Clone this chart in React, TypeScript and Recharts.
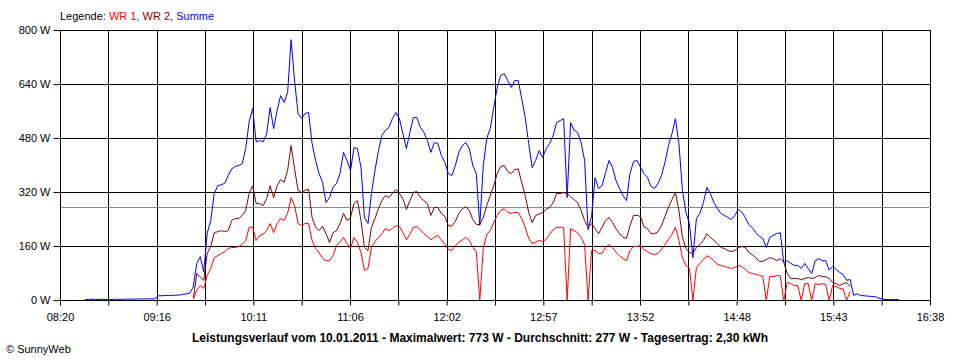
import { LineChart, Line, XAxis, YAxis, CartesianGrid, ReferenceLine } from 'recharts';

// samples every 2 minutes, first one at 08:34 (514 min after midnight)
const START_MIN = 514;
const STEP_MIN = 2;
// WR 1 / WR 2 only start feeding at sample 31 (09:36)
const WR_OFFSET = 31;

const timeLabels = ['08:20', '09:16', '10:11', '11:06', '12:02', '12:57', '13:52', '14:48', '15:43', '16:38'];
const yTicks = [0, 160, 320, 480, 640, 800];
const average = 277;

const summe = [
  3, 3, 4, 3, 3, 4, 3, 3, 3, 4, 3, 4, 4, 4, 4, 5, 4, 5, 5, 5, 5,
  14, 14, 15, 15, 15, 16, 16, 18, 20, 22,
  40, 110, 130, 85, 200, 237, 317, 340, 343, 347,
  370, 390, 397, 400, 405, 450, 530, 569, 470, 474,
  470, 494, 572, 509, 563, 607, 587, 616, 773, 650,
  554, 539, 554, 557, 465, 415, 376, 350, 290, 305,
  335, 347, 376, 439, 415, 385, 453, 450, 394, 246,
  228, 317, 385, 444, 489, 504, 513, 539, 557, 539,
  494, 450, 498, 542, 542, 513, 498, 474, 439, 468,
  465, 430, 409, 376, 370, 400, 439, 459, 468, 450,
  400, 376, 222, 400, 480, 510, 572, 631, 667, 672,
  652, 631, 652, 652, 598, 542, 465, 394, 415, 444,
  424, 450, 465, 489, 527, 533, 539, 305, 527, 504,
  498, 468, 415, 210, 250, 364, 332, 340, 379, 415,
  394, 355, 332, 311, 296, 376, 412, 415, 395, 376,
  365, 338, 332, 347, 370, 409, 459, 494, 539, 465,
  326, 261, 228, 127, 243, 258, 290, 335, 317, 290,
  272, 258, 252, 246, 240, 252, 270, 262, 246, 225,
  216, 201, 190, 184, 157, 187, 193, 198, 201, 113,
  118, 110, 104, 104, 95, 110, 95, 80, 118, 124,
  118, 118, 90, 101, 92, 83, 77, 60, 62, 15,
  20, 15, 14, 13, 12, 12, 8, 5, 3, 3, 3, 3, 3,
];

const wr2 = [
  5, 80, 70, 60, 140, 160, 201, 204, 207, 204,
  207, 237, 243, 243, 252, 267, 317, 340, 287, 287,
  281, 302, 340, 305, 340, 358, 350, 385, 459, 390,
  326, 320, 326, 330, 246, 217, 207, 220, 198, 172,
  201, 207, 228, 258, 237, 246, 287, 296, 237, 157,
  148, 217, 243, 272, 296, 311, 305, 317, 329, 317,
  302, 270, 296, 320, 323, 305, 296, 287, 252, 276,
  276, 258, 249, 222, 220, 234, 258, 272, 278, 267,
  240, 225, 225, 246, 281, 311, 340, 376, 397, 400,
  382, 376, 388, 390, 350, 311, 261, 231, 252, 256,
  261, 270, 276, 290, 317, 317, 320, 317, 308, 299,
  290, 267, 237, 217, 228, 213, 198, 217, 237, 246,
  231, 213, 198, 187, 184, 222, 252, 252, 249, 219,
  213, 198, 198, 204, 222, 249, 276, 299, 320, 267,
  187, 154, 142, 139, 157, 166, 178, 198, 187, 178,
  169, 157, 154, 148, 145, 148, 157, 160, 157, 142,
  136, 127, 116, 116, 121, 127, 124, 118, 124, 113,
  80, 65, 65, 65, 62, 65, 68, 65, 68, 74,
  71, 71, 65, 53, 50, 44, 50, 53, 41,
];

const wr1 = [
  5, 30, 44, 36, 74, 95, 127, 133, 139, 145,
  154, 157, 157, 160, 166, 178, 217, 217, 178, 193,
  196, 207, 228, 201, 228, 243, 237, 258, 305, 281,
  228, 222, 228, 228, 178, 154, 142, 125, 118, 118,
  133, 163, 172, 187, 169, 154, 187, 172, 142, 89,
  95, 157, 175, 187, 198, 213, 207, 213, 222, 219,
  201, 180, 196, 217, 219, 210, 198, 190, 180, 187,
  193, 180, 166, 151, 148, 163, 172, 180, 187, 178,
  157, 145, 0, 154, 196, 207, 231, 252, 267, 272,
  261, 258, 261, 261, 243, 217, 184, 169, 172, 178,
  175, 181, 196, 210, 217, 217, 217, 0, 213, 207,
  201, 187, 166, 0, 148, 148, 139, 140, 157, 166,
  157, 142, 133, 124, 118, 148, 160, 160, 163, 151,
  145, 139, 136, 139, 151, 166, 181, 196, 217, 178,
  127, 104, 95, 0, 98, 110, 121, 133, 127, 118,
  107, 104, 101, 98, 95, 98, 104, 100, 92, 83,
  80, 78, 75, 71, 0, 71, 71, 74, 73, 0,
  53, 50, 44, 44, 0, 50, 50, 0, 50, 47,
  50, 47, 0, 44, 41, 36, 34, 0, 27,
];

const X_MIN = 500;
const X_MAX = 998;
const xStep = (X_MAX - X_MIN) / 18;
const xTicks = Array.from({ length: 19 }, (_, k) => X_MIN + k * xStep);

const rows = summe.map((s, i) => ({
  t: START_MIN + i * STEP_MIN,
  summe: s,
  wr1: wr1[i - WR_OFFSET] ?? null,
  wr2: wr2[i - WR_OFFSET] ?? null,
}));

const font = '"Liberation Sans", Arial, sans-serif';
const tickStyle = { fill: '#000', fontSize: 11, fontFamily: font };

function formatTime(v: number) {
  const k = Math.round((v - X_MIN) / xStep);
  return k % 2 === 0 ? timeLabels[k / 2] : '';
}

export default function App() {
  return (
    <div style={{ position: 'absolute', left: 0, top: 0, width: 960, height: 360, background: '#fff', fontFamily: font }}>
      <div style={{ position: 'absolute', left: 60, top: 10, fontSize: 11, lineHeight: '13px', color: '#000', whiteSpace: 'nowrap' }}>
        Legende: <span style={{ color: '#ff0000' }}>WR 1,</span> <span style={{ color: '#800000' }}>WR 2,</span>{' '}
        <span style={{ color: '#0000ff' }}>Summe</span>
      </div>
      <LineChart width={960} height={360} data={rows} margin={{ top: 30.5, right: 29.5, left: 0, bottom: 29.5 }}>
        <CartesianGrid stroke="#000" shapeRendering="crispEdges" />
        <XAxis
          dataKey="t"
          type="number"
          domain={[X_MIN, X_MAX]}
          ticks={xTicks}
          interval={0}
          tickFormatter={formatTime}
          tickSize={5}
          tickMargin={8}
          height={30}
          stroke="#000"
          tick={tickStyle}
          allowDataOverflow
        />
        <YAxis
          type="number"
          domain={[0, 800]}
          ticks={yTicks}
          interval={0}
          tickFormatter={(v: number) => `${v} W`}
          tickSize={7}
          tickMargin={3}
          width={60.5}
          stroke="#000"
          tick={tickStyle}
        />
        <ReferenceLine y={average} stroke="#8c8c8c" shapeRendering="crispEdges" />
        <Line type="linear" dataKey="summe" stroke="#0000ff" strokeWidth={1} dot={false} activeDot={false} isAnimationActive={false} />
        <Line type="linear" dataKey="wr2" stroke="#800000" strokeWidth={1} dot={false} activeDot={false} isAnimationActive={false} />
        <Line type="linear" dataKey="wr1" stroke="#ff0000" strokeWidth={1} dot={false} activeDot={false} isAnimationActive={false} />
      </LineChart>
      <div style={{ position: 'absolute', left: 0, top: 331, width: 960, textAlign: 'center', fontSize: 12, fontWeight: 'bold', lineHeight: '14px', color: '#000' }}>
        Leistungsverlauf vom 10.01.2011 - Maximalwert: 773 W - Durchschnitt: 277 W - Tagesertrag: 2,30 kWh
      </div>
      <div style={{ position: 'absolute', left: 6, top: 343, fontSize: 11, lineHeight: '13px', color: '#000' }}>
        © SunnyWeb
      </div>
    </div>
  );
}
